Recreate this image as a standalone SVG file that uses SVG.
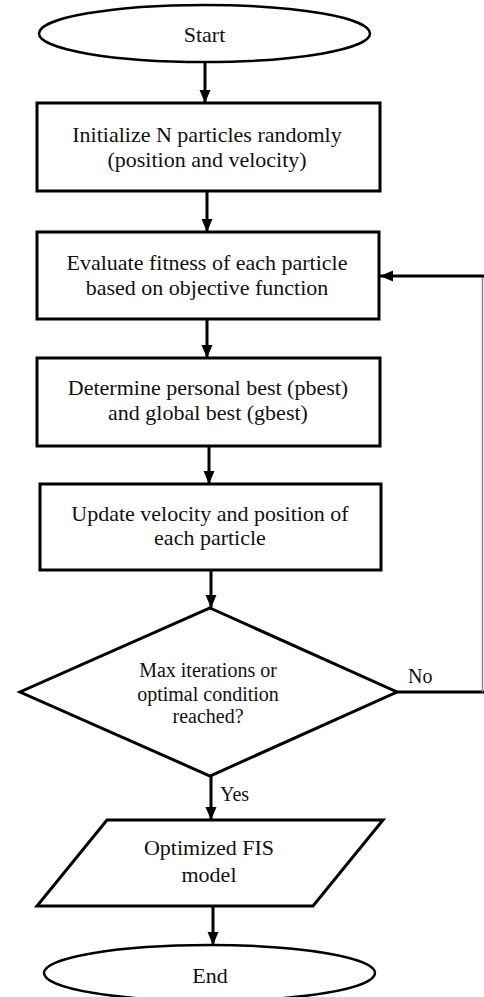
<svg xmlns="http://www.w3.org/2000/svg" width="484" height="997" viewBox="0 0 484 997">
<style>
.shape{fill:#fff;stroke:#000;stroke-width:3;stroke-linejoin:miter}
.term{fill:#fff;stroke:#000;stroke-width:2.5}
text{font-family:'Liberation Serif','Times New Roman',Times,serif}
.t{font-size:22px;fill:#111;text-anchor:middle}
.d{font-size:20px}
.lbl{font-size:20px;fill:#111}
.c{fill:none;stroke:#000;stroke-width:3}
</style>
<defs>
<marker id="ah" markerUnits="userSpaceOnUse" markerWidth="14" markerHeight="14" viewBox="0 0 14 14" refX="13" refY="7" orient="auto">
<path d="M0,1.5 L13,7 L0,12.5 Z" fill="#000"/>
</marker>
</defs>
<rect width="484" height="997" fill="#fff"/>
<g id="connectors" font-family="Liberation Serif, serif">
<line class="c" x1="205" y1="62" x2="205" y2="103" marker-end="url(#ah)"/>
<line class="c" x1="207" y1="191" x2="207" y2="232" marker-end="url(#ah)"/>
<line class="c" x1="207" y1="319" x2="207" y2="358" marker-end="url(#ah)"/>
<line class="c" x1="209" y1="446" x2="209" y2="484" marker-end="url(#ah)"/>
<line class="c" x1="211" y1="570" x2="211" y2="608" marker-end="url(#ah)"/>
<line class="c" x1="211" y1="776" x2="211" y2="820" marker-end="url(#ah)"/>
<line class="c" x1="213" y1="906" x2="213" y2="945" marker-end="url(#ah)"/>
<line class="c" x1="397" y1="692" x2="484" y2="692"/>
<line x1="482.5" y1="692" x2="482.5" y2="276" stroke="#888" stroke-width="1.5"/>
<line class="c" x1="484" y1="276" x2="380" y2="276" marker-end="url(#ah)"/>
<text class="lbl" x="408" y="683">No</text>
<text class="lbl" x="220" y="801">Yes</text>
</g>
<g id="start" font-family="Liberation Serif, serif">
<ellipse class="term" cx="204.5" cy="33.5" rx="165.5" ry="28.5"/>
<text class="t" x="204.5" y="42">Start</text>
</g>
<g id="init" font-family="Liberation Serif, serif">
<rect class="shape" x="37" y="103" width="343" height="88"/>
<text class="t" x="207" y="141.5">Initialize N particles randomly</text>
<text class="t" x="207" y="167">(position and velocity)</text>
</g>
<g id="evaluate" font-family="Liberation Serif, serif">
<rect class="shape" x="37" y="232" width="342" height="87"/>
<text class="t" x="207" y="270">Evaluate fitness of each particle</text>
<text class="t" x="207" y="295">based on objective function</text>
</g>
<g id="best" font-family="Liberation Serif, serif">
<rect class="shape" x="37" y="358" width="343" height="88"/>
<text class="t" x="208" y="395">Determine personal best (pbest)</text>
<text class="t" x="208" y="420">and global best (gbest)</text>
</g>
<g id="update" font-family="Liberation Serif, serif">
<rect class="shape" x="40" y="484" width="341" height="86"/>
<text class="t" x="210" y="521">Update velocity and position of</text>
<text class="t" x="210" y="545">each particle</text>
</g>
<g id="decision" font-family="Liberation Serif, serif">
<polygon class="shape" points="210,608 397,692 210,776 20,692"/>
<text class="t d" x="208" y="677">Max iterations or</text>
<text class="t d" x="208" y="701">optimal condition</text>
<text class="t d" x="208" y="723">reached?</text>
</g>
<g id="output" font-family="Liberation Serif, serif">
<polygon class="shape" points="107,820 383,820 313,906 37,906"/>
<text class="t" x="209" y="855">Optimized FIS</text>
<text class="t" x="209" y="882">model</text>
</g>
<g id="end" font-family="Liberation Serif, serif">
<ellipse class="term" cx="209.5" cy="973" rx="165.5" ry="28"/>
<text class="t" x="210" y="983">End</text>
</g>
</svg>
